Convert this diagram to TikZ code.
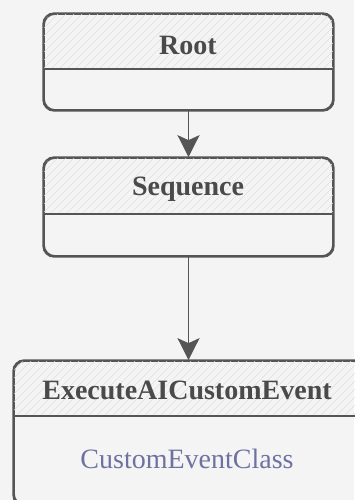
\documentclass[tikz,border=0pt]{standalone}
\usepackage{fontspec}
\setmainfont{Liberation Serif}
\usetikzlibrary{arrows.meta,calc}
\definecolor{bg}{HTML}{F4F4F4}
\definecolor{ink}{HTML}{555555}
\definecolor{txt}{HTML}{4A4A4A}
\definecolor{cls}{HTML}{6E72A0}
\definecolor{hatch}{HTML}{E0E0E0}
\newcommand{\hatchhead}[2]{%
  \begin{scope}
    \clip[rounded corners=11pt] (#1.north west) rectangle (#1.south east);
    \clip (#1.north west) rectangle ($(#1.north east)+(0,#2)$);
    \foreach \i in {-520,-512,...,360} \draw[hatch, line width=0.6pt] (\i,520) -- ++(520,-520);
  \end{scope}
  \draw[divider] ($(#1.north west)+(0,#2)$) -- ($(#1.north east)+(0,#2)$);
}
\begin{document}
\begin{tikzpicture}[x=1pt,y=-1pt,
  box/.style={draw=ink, line width=1.7pt, rounded corners=11pt, inner sep=0pt},
  divider/.style={draw=ink, line width=1.7pt},
  title/.style={font=\fontsize{28}{32}\selectfont\bfseries, text=txt, inner sep=0pt},
  member/.style={font=\fontsize{28}{32}\selectfont, text=cls, inner sep=0pt},
  arr/.style={draw=ink, line width=1.7pt, -{Stealth[length=22pt, width=22pt, inset=5pt]}}]
  \useasboundingbox (0,0) rectangle (354,500);
  \fill[bg] (0,0) rectangle (354,500);
  % boxes
  \node[box, minimum width=289pt, minimum height=96pt] (root) at (188.5,62) {};
  \node[box, minimum width=289pt, minimum height=98pt] (seq) at (188.5,207) {};
  \node[box, minimum width=350pt, minimum height=144pt] (exec) at (189,433) {};
  \hatchhead{root}{56}
  \hatchhead{seq}{57}
  \hatchhead{exec}{56}
  \draw[box, fill=none] (root.north west) rectangle (root.south east);
  \draw[box, fill=none] (seq.north west) rectangle (seq.south east);
  \draw[box, fill=none] (exec.north west) rectangle (exec.south east);
  % texts
  \node[title] (rootlbl) at (188,45) {Root};
  \node[title] (seqlbl) at (188,189) {Sequence};
  \node[title] (execlbl) at (187,390) {ExecuteAICustomEvent};
  \node[member] (execcls) at (187,459) {CustomEventClass};
  % connectors
  \draw[arr] (root.south) -- (seq.north);
  \draw[arr] (seq.south) -- (exec.north -| seq.south);
\end{tikzpicture}
\end{document}
